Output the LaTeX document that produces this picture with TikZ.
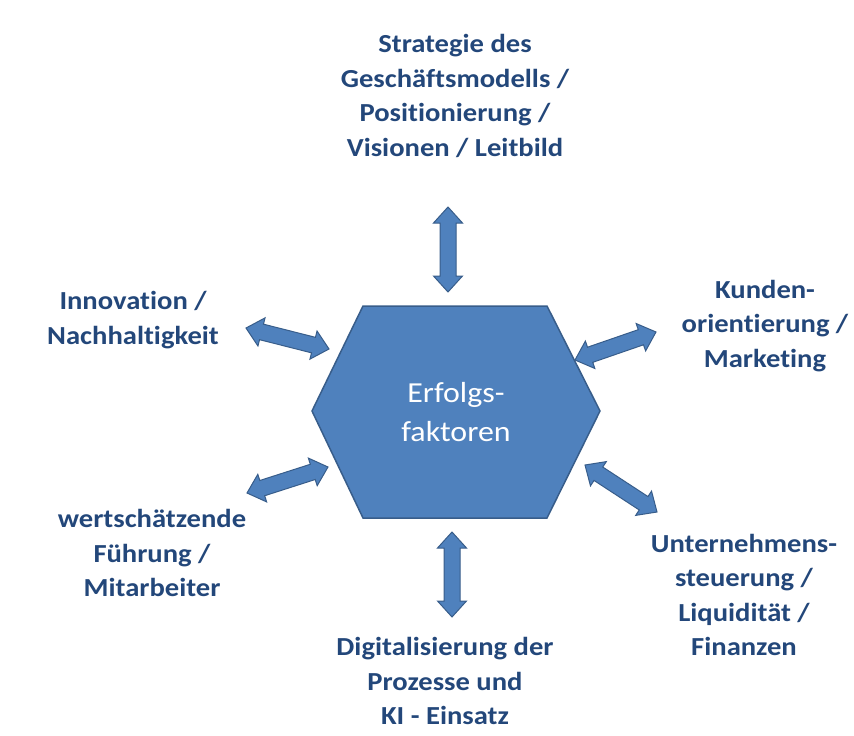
\documentclass[tikz,border=0pt]{standalone}
\usepackage{fontspec}
\setmainfont{Carlito}
\newfontfamily\labfont[FakeStretch=1.1, Ligatures=NoCommon]{Carlito}
\usetikzlibrary{calc}
\definecolor{hexfill}{HTML}{4F81BD}
\definecolor{hexline}{HTML}{385D8A}
\definecolor{labelblue}{HTML}{23477A}
\tikzset{
  arrowbox/.style={fill=hexfill, draw=hexline, line width=1pt, line join=miter},
  lab/.style={font=\labfont\bfseries\fontsize{26}{34.5}\selectfont, text=labelblue, align=center, inner sep=0pt},
  centertext/.style={font=\labfont\fontsize{29}{39}\selectfont, text=white, align=center, inner sep=0pt}
}
\newcommand\blockarrow[2]{%
  \draw[arrowbox] (#1)
    -- ($(#1)!16pt!(#2)!14.5pt!90:(#2)$)
    -- ($(#1)!16pt!(#2)!8pt!90:(#2)$)
    -- ($(#2)!16pt!(#1)!8pt!-90:(#1)$)
    -- ($(#2)!16pt!(#1)!14.5pt!-90:(#1)$)
    -- (#2)
    -- ($(#2)!16pt!(#1)!14.5pt!90:(#1)$)
    -- ($(#2)!16pt!(#1)!8pt!90:(#1)$)
    -- ($(#1)!16pt!(#2)!8pt!-90:(#2)$)
    -- ($(#1)!16pt!(#2)!14.5pt!-90:(#2)$)
    -- cycle;}
\begin{document}
\begin{tikzpicture}[x=1pt,y=-1pt]
\useasboundingbox (0,0) rectangle (854,736);
% hexagon
\coordinate (h1) at (363,306);
\coordinate (h2) at (547,306);
\coordinate (h3) at (600,411);
\coordinate (h4) at (547,518);
\coordinate (h5) at (363,518);
\coordinate (h6) at (312,411);
\draw[arrowbox, line width=1.5pt] (h1) -- (h2) -- (h3) -- (h4) -- (h5) -- (h6) -- cycle;
\node[centertext] (center) at (456,412) {Erfolgs-\\faktoren};
% arrow ends
\coordinate (t1) at (448,207); \coordinate (t2) at (448,292);
\coordinate (b1) at (452,532); \coordinate (b2) at (452,617);
\coordinate (lt1) at (246,328); \coordinate (lt2) at (329,349);
\coordinate (lb1) at (247,493); \coordinate (lb2) at (328,467);
\coordinate (rt1) at (575,360); \coordinate (rt2) at (656,332);
\coordinate (rb1) at (585,465); \coordinate (rb2) at (657,512);
\blockarrow{t1}{t2}
\blockarrow{b1}{b2}
\blockarrow{lt1}{lt2}
\blockarrow{lb1}{lb2}
\blockarrow{rt1}{rt2}
\blockarrow{rb1}{rb2}
% labels
\node[lab] (strat) at (455,96) {Strategie des\\Geschäftsmodells /\\Positionierung /\\Visionen / Leitbild};
\node[lab] (innov) at (133,320) {Innovation /\\Nachhaltigkeit};
\node[lab] (kunden) at (765,326) {Kunden-\\orientierung /\\Marketing};
\node[lab] (fuehr) at (152,553) {wertschätzende\\Führung /\\Mitarbeiter};
\node[lab] (unter) at (744,595) {Unternehmens-\\steuerung /\\Liquidität /\\Finanzen};
\node[lab] (digi) at (445,681) {Digitalisierung der\\Prozesse und\\KI - Einsatz};
\end{tikzpicture}
\end{document}
